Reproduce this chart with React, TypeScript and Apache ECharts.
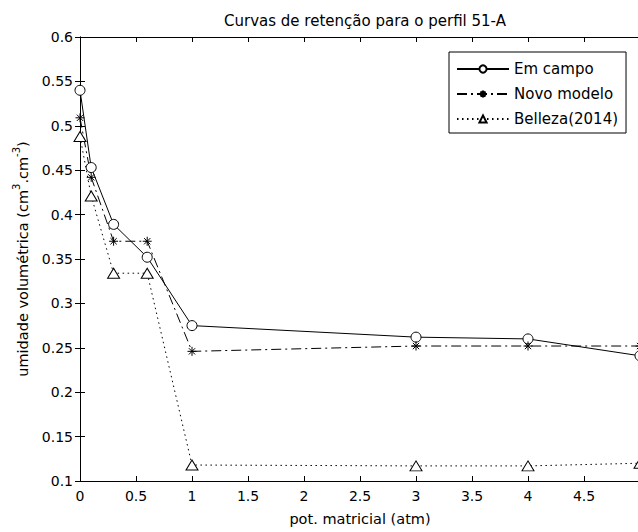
import React, { useEffect, useRef } from "react";
import * as echarts from "echarts";

const xValues = [0, 0.1, 0.3, 0.6, 1, 3, 4, 5];
const emCampo = [0.54, 0.453, 0.389, 0.352, 0.275, 0.262, 0.26, 0.241];
const novoModelo = [0.509, 0.442, 0.37, 0.37, 0.246, 0.252, 0.252, 0.252];
const belleza = [0.488, 0.421, 0.334, 0.334, 0.118, 0.117, 0.117, 0.12];
const seriesNames = ["Em campo", "Novo modelo", "Belleza(2014)"];

const pair = (ys: number[]) => xValues.map((x, i) => [x, ys[i]]);

const FONT = "DejaVu Sans, Verdana, sans-serif";
const STAR = "path://M5 0 L5 10 M0 5 L10 5 M1.5 1.5 L8.5 8.5 M1.5 8.5 L8.5 1.5";

export default function App() {
  const ref = useRef<HTMLDivElement>(null);
  useEffect(() => {
    if (!ref.current) return;
    document.body.style.overflow = "hidden";
    const chart = echarts.init(ref.current, null, { renderer: "svg" });
    const axisLine = { show: true, lineStyle: { color: "#000", width: 1 } };
    chart.setOption({
      animation: false,
      backgroundColor: "#fff",
      textStyle: { fontFamily: FONT, color: "#000" },
      title: {
        text: "Curvas de retenção para o perfil 51-A",
        left: 360,
        textAlign: "center",
        top: 8,
        textStyle: { fontFamily: FONT, fontSize: 15, fontWeight: "normal", color: "#000" },
      },
      legend: {
        orient: "vertical",
        left: 449,
        top: 52,
        padding: [8, 8, 5, 7],
        itemWidth: 52,
        itemHeight: 9,
        itemGap: 7,
        borderColor: "#000",
        borderWidth: 1,
        backgroundColor: "#fff",
        textStyle: { fontFamily: FONT, fontSize: 15, color: "#000", lineHeight: 18 },
        data: seriesNames,
      },
      grid: { left: 80, right: 0, top: 37, bottom: 51 },
      xAxis: [
        {
          type: "value",
          min: 0,
          max: 5,
          interval: 0.5,
          name: "pot. matricial (atm)",
          nameLocation: "middle",
          nameGap: 30,
          nameTextStyle: { fontFamily: FONT, fontSize: 14.5, color: "#000" },
          axisLine,
          axisTick: { show: true, inside: true, length: 5, lineStyle: { color: "#000" } },
          axisLabel: { showMaxLabel: false, fontFamily: FONT, fontSize: 14, color: "#000", margin: 8 },
          splitLine: { show: false },
        },
        {
          type: "value",
          position: "top",
          min: 0,
          max: 5,
          interval: 0.5,
          axisLine,
          axisTick: { show: true, inside: true, length: 5, lineStyle: { color: "#000" } },
          axisLabel: { show: false },
          splitLine: { show: false },
        },
      ],
      yAxis: [
        {
          type: "value",
          min: 0.1,
          max: 0.6,
          interval: 0.05,
          name: "{a|umidade volumétrica (cm}{s|3}{a|.cm}{s|-3}{a|)}",
          nameLocation: "middle",
          nameGap: 46,
          nameTextStyle: {
            fontFamily: FONT,
            color: "#000",
            rich: {
              a: { fontFamily: FONT, fontSize: 14.5, color: "#000", lineHeight: 19, verticalAlign: "bottom" },
              s: { fontFamily: FONT, fontSize: 10, color: "#000", lineHeight: 19, verticalAlign: "top" },
            },
          },
          axisLine,
          axisTick: { show: true, inside: true, length: 5, lineStyle: { color: "#000" } },
          axisLabel: {
            fontFamily: FONT,
            fontSize: 14,
            color: "#000",
            margin: 7,
            formatter: (v: number) => String(+v.toFixed(2)),
          },
          splitLine: { show: false },
        },
        {
          type: "value",
          position: "right",
          min: 0.1,
          max: 0.6,
          interval: 0.05,
          axisLine,
          axisTick: { show: true, inside: true, length: 5, lineStyle: { color: "#000" } },
          axisLabel: { show: false },
          splitLine: { show: false },
        },
      ],
      series: [
        {
          name: seriesNames[0],
          type: "line",
          data: pair(emCampo),
          symbol: "circle",
          symbolSize: 10,
          showAllSymbol: true,
          lineStyle: { color: "#000", width: 1, type: "solid" },
          itemStyle: { color: "#fff", borderColor: "#000", borderWidth: 1 },
        },
        {
          name: seriesNames[1],
          type: "line",
          data: pair(novoModelo),
          symbol: STAR,
          symbolSize: 9,
          showAllSymbol: true,
          lineStyle: { color: "#000", width: 1, type: [10, 4, 2, 4] },
          itemStyle: { color: "#000", borderColor: "#000", borderWidth: 1 },
        },
        {
          name: seriesNames[2],
          type: "line",
          data: pair(belleza),
          symbol: "triangle",
          symbolSize: [12, 10],
          showAllSymbol: true,
          lineStyle: { color: "#000", width: 1, type: [1.5, 3.5] },
          itemStyle: { color: "#fff", borderColor: "#000", borderWidth: 1 },
        },
      ],
    });
    return () => chart.dispose();
  }, []);
  return (
    <div
      ref={ref}
      style={{ position: "absolute", left: 0, top: 0, width: 640, height: 532, background: "#fff" }}
    />
  );
}
